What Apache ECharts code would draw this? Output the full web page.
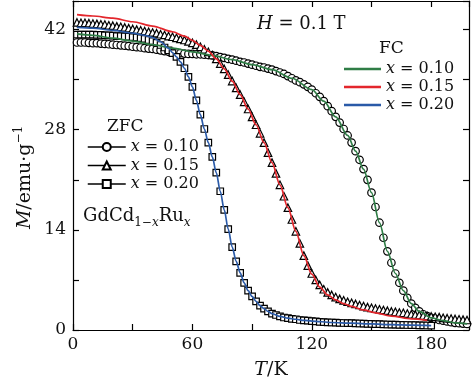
<!DOCTYPE html>
<html><head><meta charset="utf-8">
<script src="https://cdn.jsdelivr.net/npm/echarts@6/dist/echarts.min.js"></script>
<style>html,body{margin:0;padding:0;background:#fff}#c{width:474px;height:383px}</style>
</head><body><div id="c"></div>
<script>
// ZFC temperatures (K)
const tZFC = [2,4,6,8,10,12,14,16,18,20,22,24,26,28,30,32,34,36,38,40,42,44,46,48,50,52,54,56,58,60,62,64,66,68,70,72,74,76,78,80,82,84,86,88,90,92,94,96,98,100,102,104,106,108,110,112,114,116,118,120,122,124,126,128,130,132,134,136,138,140,142,144,146,148,150,152,154,156,158,160,162,164,166,168,170,172,174,176,178,180,182,184,186,188,190,192,194,196,198];
// ZFC magnetisation, x = 0.10 (circles)
const mZFC010 = [40.2,40.2,40.2,40.15,40.1,40.1,40.05,40.0,39.95,39.9,
  39.85,39.8,39.75,39.7,39.6,39.55,39.5,39.4,39.35,39.3,
  39.2,39.1,39.0,38.9,38.85,38.8,38.7,38.65,38.6,38.6,
  38.55,38.55,38.5,38.45,38.4,
  38.3,38.15,38.05,37.9,37.8,
  37.65,37.5,37.4,37.25,37.1,
  36.95,36.8,36.7,36.55,36.4,
  36.2,36.0,35.8,35.5,35.2,
  34.9,34.65,34.35,34.0,33.6,
  33.1,32.6,32.0,31.3,30.6,
  29.8,29.0,28.1,27.2,26.2,
  25.0,23.8,22.5,21.0,19.2,
  17.2,15.0,12.9,11.0,9.4,
  7.9,6.6,5.5,4.5,3.7,
  3.1,2.6,2.2,1.95,1.7,
  1.55,1.4,1.3,1.2,1.1,
  1.0,0.95,0.9,0.85];
// ZFC magnetisation, x = 0.15 (triangles)
const mZFC015 = [43.0,42.95,42.95,42.9,42.85,42.8,42.75,42.7,42.6,42.55,
  42.45,42.4,42.3,42.2,42.1,42.0,41.9,41.8,41.7,41.6,
  41.5,41.35,41.25,41.1,41.0,40.85,40.7,40.55,40.35,40.15,
  39.9,39.6,39.25,38.9,38.45,37.9,
  37.25,36.5,35.7,34.8,
  33.85,32.9,31.9,30.9,29.8,
  28.7,27.5,26.2,24.8,23.4,
  21.9,20.3,18.7,17.1,15.45,
  13.8,12.1,10.4,9.0,7.9,
  7.0,6.3,5.7,5.25,4.9,
  4.6,4.35,4.15,3.95,3.8,
  3.65,3.5,3.35,3.2,3.1,
  3.0,2.9,2.8,2.7,2.6,
  2.55,2.45,2.4,2.3,2.2,
  2.15,2.1,2.0,1.95,1.9,
  1.85,1.8,1.7,1.65,1.6,
  1.55,1.5,1.45,1.4];
// ZFC magnetisation, x = 0.20 (squares), T = 2..180
const mZFC020 = [41.3,41.3,41.3,41.3,41.3,41.25,41.25,41.2,41.2,41.15,
  41.1,41.1,41.05,41.0,40.95,40.9,40.8,40.7,40.55,40.4,
  40.15,39.85,39.5,39.1,38.7,38.2,37.5,36.6,35.4,34.0,
  32.1,30.1,28.1,26.2,24.2,22.0,19.4,16.8,14.1,11.6,
  9.6,8.0,6.6,5.5,4.7,4.0,3.4,3.0,2.6,2.3,
  2.1,1.9,1.75,1.65,1.55,1.5,1.4,1.35,1.3,1.25,
  1.2,1.15,1.1,1.08,1.05,1.02,1.0,0.98,0.96,0.95,
  0.93,0.91,0.89,0.87,0.85,0.83,0.81,0.79,0.77,0.75,
  0.74,0.72,0.71,0.7,0.68,0.67,0.66,0.64,0.63,0.62];
// FC curves
const tFC010 = [2,10,20,30,40,50,60,70,80,90,100,110,120,126,132,138,142,146,150,154,158,162,166,170,174,180,186,192,198];
const mFC010 = [41.4,41.2,40.8,40.4,39.9,39.4,38.9,38.4,37.8,37.1,36.4,35.2,33.6,32.0,29.8,27.2,25.0,22.5,19.2,15.0,11.0,7.9,5.5,3.7,2.6,1.7,1.3,1.0,0.85];
const tFC015 = [2,10,20,30,40,50,56,60,64,68,72,76,80,84,88,92,96,100,104,108,112,116,120,124,128,132,136,140,146,152,160,170,178];
const mFC015 = [44.1,43.9,43.6,43.1,42.5,41.7,41.1,40.5,39.8,39.0,37.9,36.5,34.8,32.9,30.9,28.7,26.2,23.4,20.3,17.1,13.8,10.4,7.8,6.0,4.9,4.2,3.7,3.3,2.8,2.4,1.95,1.55,1.35];
const tFC020 = [2,10,20,30,36,40,44,48,50,52,54,56,58,60,62,64,66,68,70,72,74,76,78,80,82,84,86,88,90,92,94,96,98,100,104,108,112,116,120,130,140,150,160,170,180];
const mFC020 = [42.3,42.2,41.9,41.5,41.2,40.9,40.3,39.4,38.8,38.2,37.5,36.6,35.4,34.0,32.1,30.1,28.1,26.2,24.2,22.0,19.4,16.8,14.1,11.6,9.6,8.0,6.6,5.5,4.7,4.0,3.4,3.0,2.6,2.3,1.9,1.65,1.5,1.35,1.25,1.05,0.95,0.85,0.75,0.68,0.62];
const labelsX = [0,60,120,180];
const labelsY = [0,14,28,42];
const zfcNames = ['ZFC x = 0.10','ZFC x = 0.15','ZFC x = 0.20'];
const fcNames = ['FC x = 0.10','FC x = 0.15','FC x = 0.20'];

const FONT = 'DejaVu Serif';
const zip = (t, m) => m.map((v, i) => [t[i], v]);
const chart = echarts.init(document.getElementById('c'));

const axisCommon = {
  axisLine: {show: true, onZero: false, lineStyle: {color: '#000', width: 1.2}},
  axisTick: {show: true, inside: true, length: 6, lineStyle: {color: '#000', width: 1.2}},
  splitLine: {show: false},
  nameMoveOverlap: false
};
const xBase = Object.assign({type: 'value', min: 0, max: 199, interval: 30}, axisCommon);
const yBase = Object.assign({type: 'value', min: 0, max: 46, interval: 7}, axisCommon);

const zfcMarker = (sym, size) => ({
  type: 'line', symbol: sym, symbolSize: size, showSymbol: true,
  itemStyle: {color: '#fff', borderColor: '#000', borderWidth: 1.2},
  lineStyle: {width: 0, opacity: 0}, z: 2, animation: false
});
const fcLine = (color) => ({
  type: 'line', symbol: 'none', smooth: 0.3, smoothMonotone: 'x',
  lineStyle: {color: color, width: 1.7}, itemStyle: {color: color}, z: 3, animation: false
});
const colors = ['#2f7d46', '#e3262c', '#2a5aa8'];
const legendLabel = (name) => '{i|x} = ' + name.split('= ')[1];
const legendText = {
  fontFamily: FONT, fontSize: 16, color: '#111', lineHeight: 18,
  rich: {i: {fontFamily: FONT, fontStyle: 'italic', fontSize: 16, lineHeight: 18, color: '#111'}}
};

chart.setOption({
  animation: false,
  backgroundColor: '#fff',
  grid: {left: 73, right: 5, top: 1, bottom: 53, containLabel: false, outerBoundsMode: 'none'},
  xAxis: [
    Object.assign({}, xBase, {
      position: 'bottom',
      name: '{i|T}/K', nameLocation: 'middle', nameGap: 31,
      nameTextStyle: {fontFamily: FONT, fontSize: 19, color: '#111',
        rich: {i: {fontFamily: FONT, fontStyle: 'italic', fontSize: 19, color: '#111'}}},
      axisLabel: {show: true, margin: 6, fontFamily: FONT, fontSize: 17, color: '#111',
        formatter: v => labelsX.includes(v) ? String(v) : ''}
    }),
    Object.assign({}, xBase, {position: 'top', axisLabel: {show: false}})
  ],
  yAxis: [
    Object.assign({}, yBase, {
      position: 'left',
      name: '{i|M}/emu·g{s|−1}', nameLocation: 'middle', nameGap: 48, nameRotate: 90,
      nameTextStyle: {fontFamily: FONT, fontSize: 19, color: '#111', lineHeight: 24, verticalAlign: 'middle',
        padding: [0, 24, 0, 0],
        rich: {i: {fontFamily: FONT, fontStyle: 'italic', fontSize: 19, color: '#111', lineHeight: 24},
               s: {fontFamily: FONT, fontSize: 12, color: '#111', lineHeight: 14, verticalAlign: 'top'}}},
      axisLabel: {show: true, margin: 7, fontFamily: FONT, fontSize: 17, color: '#111',
        formatter: v => labelsY.includes(v) ? String(v) : ''}
    }),
    Object.assign({}, yBase, {position: 'right', axisLabel: {show: false}})
  ],
  legend: [
    {
      data: zfcNames, orient: 'vertical', left: 82, top: 133, itemWidth: 38, itemHeight: 10, itemGap: 0.5,
      selectedMode: false, formatter: legendLabel, textStyle: legendText,
      lineStyle: {width: 1.5, color: '#000', opacity: 1}
    },
    {
      data: fcNames, orient: 'vertical', left: 339, top: 55, itemWidth: 37, itemHeight: 2.5, itemGap: 0,
      icon: 'rect', selectedMode: false, formatter: legendLabel, textStyle: legendText
    }
  ],
  graphic: [
    {type: 'text', left: 257, top: 15, style: {text: '{i|H} = 0.1 T', fill: '#111',
      font: '18px "' + FONT + '"',
      rich: {i: {fontFamily: FONT, fontStyle: 'italic', fontSize: 18, fill: '#111'}}}},
    {type: 'text', left: 379, top: 40, style: {text: 'FC', fill: '#111', font: '17px "' + FONT + '"'}},
    {type: 'text', left: 107, top: 118, style: {text: 'ZFC', fill: '#111', font: '17px "' + FONT + '"'}},
    {type: 'text', left: 83, top: 207, style: {
      text: '{b|GdCd}{s|1−}{si|x}{b|Ru}{si|x}', fill: '#111',
      rich: {
        b: {fontFamily: FONT, fontSize: 18, lineHeight: 26, verticalAlign: 'middle', fill: '#111'},
        s: {fontFamily: FONT, fontSize: 12, lineHeight: 12, verticalAlign: 'bottom', fill: '#111'},
        si: {fontFamily: FONT, fontStyle: 'italic', fontSize: 12, lineHeight: 12, verticalAlign: 'bottom', fill: '#111'}
      }}}
  ],
  series: [
    Object.assign({name: zfcNames[0], data: zip(tZFC, mZFC010)}, zfcMarker('circle', 7.5)),
    Object.assign({name: zfcNames[1], data: zip(tZFC, mZFC015)}, zfcMarker('triangle', 7.5)),
    Object.assign({name: zfcNames[2], data: zip(tZFC, mZFC020)}, zfcMarker('rect', 6.5)),
    Object.assign({name: fcNames[0], data: zip(tFC010, mFC010)}, fcLine(colors[0])),
    Object.assign({name: fcNames[1], data: zip(tFC015, mFC015)}, fcLine(colors[1])),
    Object.assign({name: fcNames[2], data: zip(tFC020, mFC020)}, fcLine(colors[2]))
  ]
});
</script></body></html>
